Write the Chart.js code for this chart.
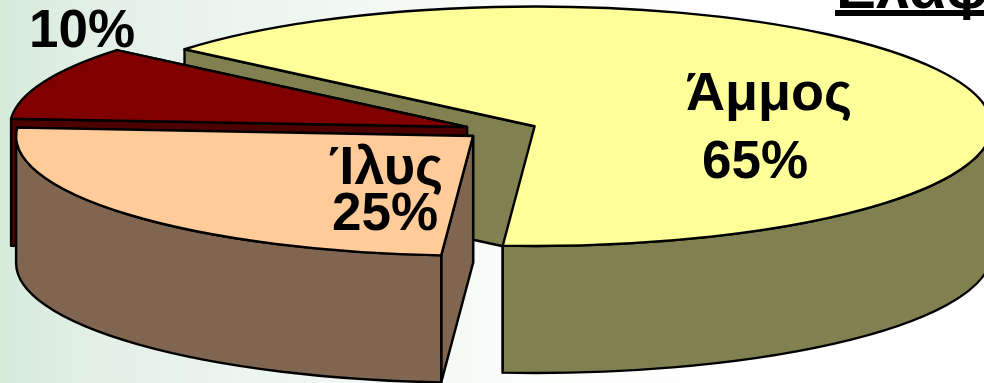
<!DOCTYPE html>
<html lang="el">
<head>
<meta charset="utf-8">
<title>Ελαφρύ έδαφος</title>
<script src="https://cdn.jsdelivr.net/npm/chart.js@4"></script>
<style>
  html, body { margin: 0; padding: 0; width: 984px; height: 383px; overflow: hidden; }
  body { background: linear-gradient(90deg, #d6eada 0, #e3f0e6 100px, #eff6f1 300px, #fbfdfb 560px, #ffffff 800px); }
  canvas { display: block; }
</style>
</head>
<body>
<canvas id="myChart" width="984" height="383"></canvas>
<script>
const sliceNames = ["Άμμος", "Ίλυς", ""];
const sliceValues = [65, 25, 10];
const topColors = ["#ffff99", "#ffcc99", "#800000"];
const wallColors = ["#808050", "#806650", "#4d0000"];
const sliceOffsets = [160, 131, 133];
const titleText = "Ελαφρύ έδαφος";

// how flat the pie is laid down, and how thick the slab is
const squash = 0.262;
const depth = 127;

// where each slice's text goes: name x, name baseline, value x, value baseline
const textSpots = [[769, 110, 755, 178], [386, 184, 385, 230], [0, 0, 82, 47]];

// ArcElement grows its radius along with the offset, by this much
function radiusGrowth(arc) {
  return (arc.options.offset / 4) * (1 - Math.sin(Math.min(Math.PI, arc.circumference)));
}

function sliceGeometry(arc) {
  const mid = (arc.startAngle + arc.endAngle) / 2;
  const shift = arc.options.offset / 4;
  return {
    x: arc.x + Math.cos(mid) * shift,
    y: arc.y + Math.sin(mid) * shift * squash,
    r: arc.outerRadius + radiusGrowth(arc),
    a0: arc.startAngle,
    a1: arc.endAngle
  };
}

function edgePoint(g, angle) {
  return [g.x + Math.cos(angle) * g.r, g.y + Math.sin(angle) * g.r * squash];
}

function paint(ctx, fill) {
  ctx.fillStyle = fill;
  ctx.fill();
  ctx.stroke();
}

function radialWall(ctx, g, angle, fill) {
  const p = edgePoint(g, angle);
  ctx.beginPath();
  ctx.moveTo(g.x, g.y);
  ctx.lineTo(p[0], p[1]);
  ctx.lineTo(p[0], p[1] + depth);
  ctx.lineTo(g.x, g.y + depth);
  ctx.closePath();
  paint(ctx, fill);
}

function outerWall(ctx, g, fill) {
  // only the part of the rim that faces the front
  const from = Math.max(g.a0, 0);
  const to = Math.min(g.a1, Math.PI);
  if (to <= from) return;
  ctx.beginPath();
  ctx.ellipse(g.x, g.y, g.r, g.r * squash, 0, from, to);
  ctx.ellipse(g.x, g.y + depth, g.r, g.r * squash, 0, to, from, true);
  ctx.closePath();
  paint(ctx, fill);
}

const slabPlugin = {
  id: "slab",
  afterDatasetUpdate(chart) {
    // keep all three slices on one radius
    chart.getDatasetMeta(0).data.forEach(function (arc) {
      arc.outerRadius -= radiusGrowth(arc);
    });
  },
  beforeDatasetDraw(chart) {
    const ctx = chart.ctx;
    const arcs = chart.getDatasetMeta(0).data;

    ctx.save();
    ctx.strokeStyle = "#000";
    ctx.lineWidth = 2.4;
    ctx.lineJoin = "round";
    // back to front: big slice, then the small one, then the middle one
    [0, 2, 1].forEach(function (i) {
      const g = sliceGeometry(arcs[i]);
      // the end face looks away from us, so the start face goes over it
      radialWall(ctx, g, g.a1, wallColors[i]);
      radialWall(ctx, g, g.a0, wallColors[i]);
      outerWall(ctx, g, wallColors[i]);
    });
    ctx.restore();

    // the library draws the round pie, this lays it flat
    const cy = arcs[0].y;
    ctx.save();
    ctx.translate(0, cy);
    ctx.scale(1, squash);
    ctx.translate(0, -cy);
  },
  afterDatasetDraw(chart) {
    const ctx = chart.ctx;
    ctx.restore();

    // outlines go on here so the flattening doesn't thin them out
    ctx.save();
    ctx.strokeStyle = "#000";
    ctx.lineWidth = 2.4;
    ctx.lineJoin = "round";
    chart.getDatasetMeta(0).data.forEach(function (arc, i) {
      const g = sliceGeometry(arc);
      ctx.beginPath();
      ctx.moveTo(g.x, g.y);
      ctx.ellipse(g.x, g.y, g.r, g.r * squash, 0, g.a0, g.a1);
      ctx.closePath();
      paint(ctx, topColors[i]);
    });
    ctx.restore();
  },
  afterDraw(chart) {
    const ctx = chart.ctx;
    ctx.save();
    ctx.fillStyle = "#000";
    ctx.textAlign = "center";
    sliceValues.forEach(function (v, i) {
      const spot = textSpots[i];
      ctx.font = "bold 54px 'Liberation Sans', Arial, sans-serif";
      if (sliceNames[i]) ctx.fillText(sliceNames[i], spot[0], spot[1]);
      ctx.font = "bold 53px 'Liberation Sans', Arial, sans-serif";
      ctx.fillText(v + "%", spot[2], spot[3]);
    });

    // heading runs off the top right corner
    ctx.textAlign = "left";
    ctx.font = "bold 60px 'Liberation Sans', Arial, sans-serif";
    ctx.fillText(titleText, 836, 8);
    ctx.fillRect(835, 10, 149, 6);
    ctx.restore();
  }
};

const chart = new Chart(document.getElementById("myChart"), {
  type: "pie",
  data: {
    labels: sliceNames,
    datasets: [{
      data: sliceValues,
      backgroundColor: topColors,
      offset: sliceOffsets,
      borderWidth: 0,
      clip: false
    }]
  },
  options: {
    responsive: false,
    animation: false,
    rotation: -50,
    radius: 457,
    layout: { padding: { left: 11.6, bottom: 122.4 } },
    events: [],
    plugins: {
      legend: { display: false },
      tooltip: { enabled: false }
    }
  },
  plugins: [slabPlugin]
});
</script>
</body>
</html>
